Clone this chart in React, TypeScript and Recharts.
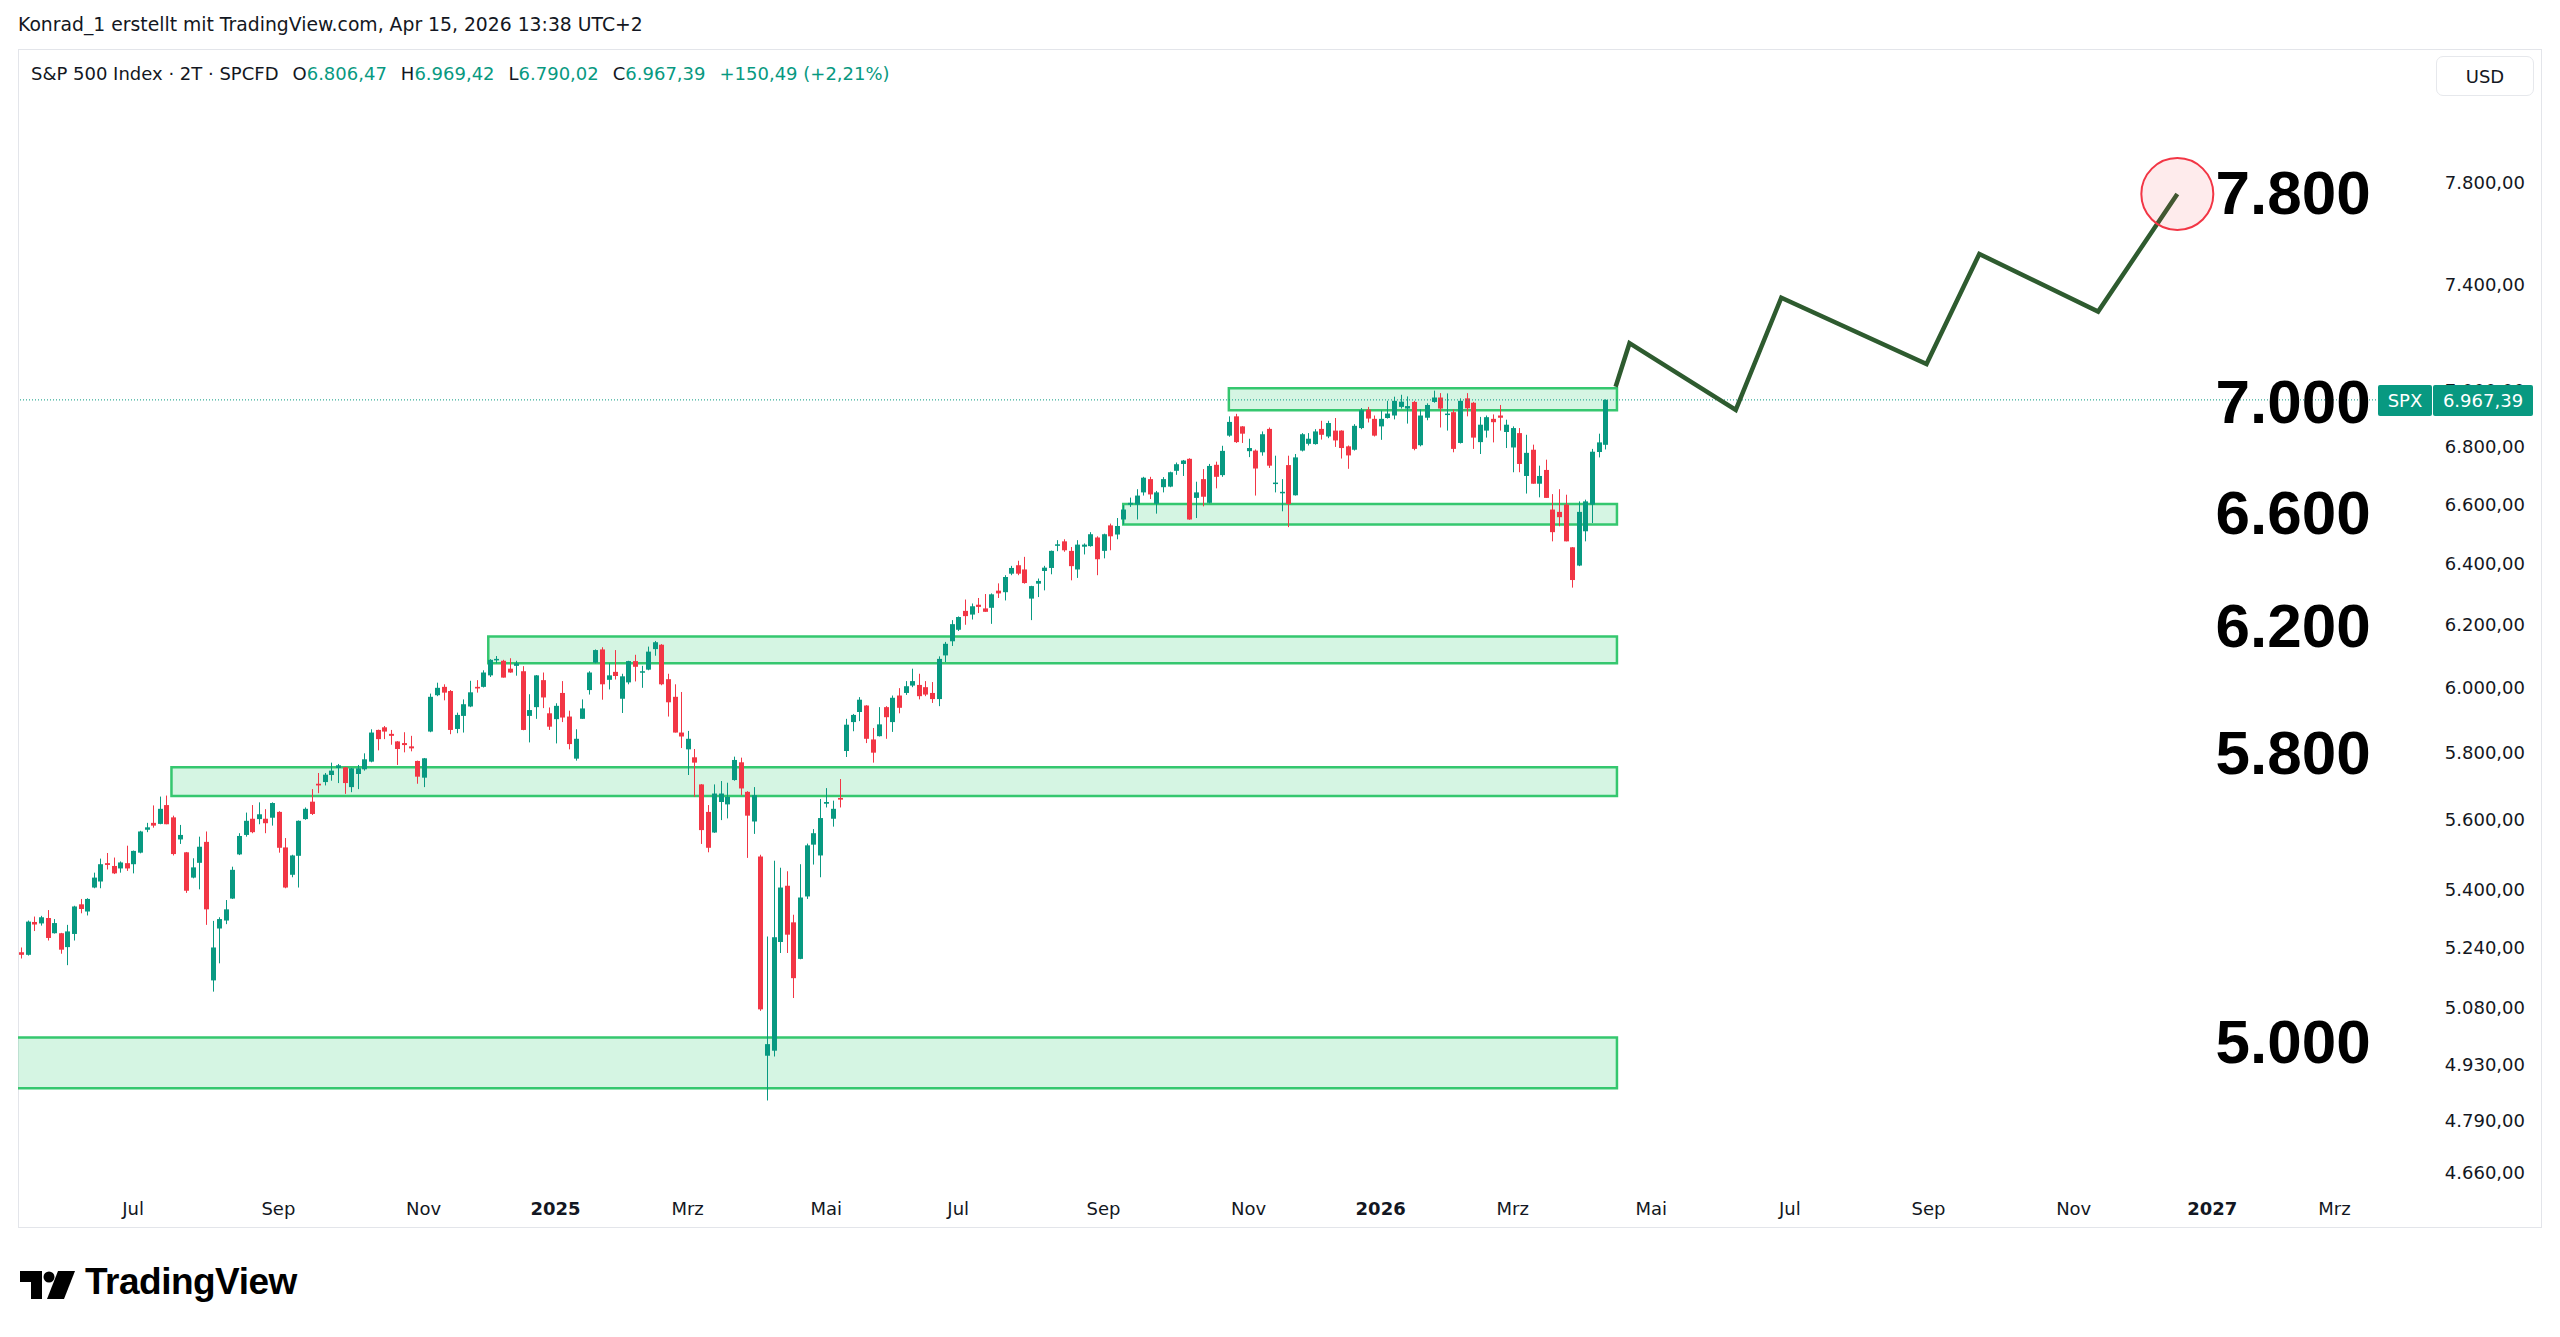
import React from 'react'
import {
  ComposedChart,
  Bar,
  Line,
  XAxis,
  YAxis,
  ReferenceArea,
  ReferenceLine,
  ReferenceDot,
} from 'recharts'

// S&P 500, 2-day candles (late May 2024 .. Apr 15 2026): [open, high, low, close]
const CANDLES: [number, number, number, number][] = [
  [5227, 5240, 5210, 5220], [5220, 5314, 5218, 5311], [5310, 5325, 5285, 5303], [5306, 5327, 5300, 5323],
  [5321, 5343, 5259, 5266], [5279, 5318, 5278, 5307], [5279, 5280, 5223, 5234], [5241, 5302, 5192, 5284],
  [5277, 5355, 5259, 5353], [5359, 5374, 5334, 5346], [5339, 5376, 5328, 5374], [5406, 5448, 5404, 5434],
  [5423, 5488, 5404, 5472], [5475, 5504, 5457, 5470], [5467, 5491, 5444, 5446], [5460, 5480, 5448, 5477],
  [5475, 5525, 5453, 5460], [5472, 5511, 5446, 5510], [5505, 5568, 5503, 5566], [5571, 5591, 5564, 5578],
  [5591, 5642, 5577, 5583], [5588, 5668, 5587, 5632], [5643, 5671, 5587, 5587], [5607, 5612, 5497, 5501],
  [5543, 5585, 5530, 5556], [5506, 5507, 5391, 5397], [5434, 5489, 5432, 5463], [5476, 5551, 5401, 5522],
  [5536, 5566, 5302, 5345], [5151, 5313, 5121, 5240], [5292, 5323, 5197, 5318], [5314, 5371, 5304, 5345],
  [5375, 5465, 5374, 5456], [5500, 5561, 5498, 5553], [5556, 5621, 5551, 5597], [5603, 5643, 5561, 5564],
  [5602, 5651, 5587, 5616], [5603, 5631, 5561, 5590], [5606, 5651, 5583, 5649], [5623, 5625, 5505, 5519],
  [5520, 5547, 5404, 5406], [5442, 5499, 5435, 5497], [5496, 5598, 5406, 5597], [5602, 5636, 5600, 5632],
  [5653, 5690, 5614, 5617], [5706, 5738, 5678, 5701], [5711, 5738, 5701, 5733], [5732, 5769, 5715, 5745],
  [5753, 5765, 5708, 5761], [5755, 5756, 5676, 5708], [5696, 5753, 5681, 5752], [5735, 5762, 5690, 5752],
  [5749, 5797, 5745, 5779], [5772, 5870, 5770, 5860], [5868, 5869, 5806, 5840], [5876, 5880, 5840, 5863],
  [5856, 5868, 5823, 5850], [5833, 5834, 5762, 5810], [5828, 5861, 5800, 5822], [5818, 5850, 5803, 5812],
  [5774, 5775, 5706, 5727], [5724, 5783, 5696, 5782], [5863, 5980, 5861, 5970], [5975, 6014, 5972, 5998],
  [6001, 6009, 5959, 5983], [5988, 5991, 5855, 5868], [5871, 5921, 5858, 5914], [5911, 5962, 5860, 5947],
  [5940, 6020, 5938, 5984], [6001, 6022, 5983, 5996], [6001, 6053, 5999, 6046], [6037, 6088, 6032, 6086],
  [6085, 6098, 6075, 6089], [6083, 6086, 6030, 6030], [6058, 6091, 6045, 6046], [6067, 6083, 6036, 6075],
  [6050, 6066, 5867, 5868], [5911, 5978, 5830, 5929], [5938, 6038, 5902, 6037], [6022, 6046, 5935, 5968],
  [5919, 5937, 5868, 5878], [5901, 5950, 5827, 5942], [5982, 6019, 5892, 5906], [5909, 5927, 5809, 5825],
  [5781, 5870, 5775, 5841], [5902, 5962, 5902, 5934], [5991, 6050, 5977, 6046], [6077, 6119, 6075, 6117],
  [6119, 6126, 5961, 6009], [6023, 6075, 5993, 6037], [6048, 6117, 6024, 6035], [5964, 6042, 5920, 6034],
  [6015, 6083, 6009, 6082], [6082, 6102, 6018, 6064], [6047, 6067, 5998, 6050], [6055, 6128, 6053, 6112],
  [6120, 6146, 6099, 6142], [6134, 6136, 6006, 6009], [6025, 6042, 5909, 5953], [5970, 6009, 5860, 5860],
  [5860, 5985, 5813, 5848], [5809, 5865, 5732, 5841], [5785, 5810, 5667, 5769], [5704, 5705, 5530, 5570],
  [5623, 5643, 5506, 5519], [5563, 5704, 5562, 5677], [5652, 5714, 5599, 5677], [5645, 5709, 5604, 5667],
  [5717, 5787, 5715, 5777], [5770, 5784, 5672, 5692], [5682, 5684, 5490, 5612], [5595, 5696, 5559, 5672],
  [5494, 5499, 5070, 5074], [4953, 5270, 4839, 4983], [4966, 5482, 4951, 5268], [5255, 5462, 5225, 5406],
  [5411, 5452, 5225, 5275], [5309, 5330, 5104, 5157], [5209, 5472, 5208, 5378], [5381, 5531, 5374, 5526],
  [5528, 5573, 5471, 5561], [5497, 5661, 5435, 5605], [5647, 5693, 5636, 5652], [5603, 5656, 5580, 5632],
  [5664, 5720, 5636, 5659], [5804, 5902, 5786, 5884], [5892, 5917, 5864, 5914], [5923, 5969, 5895, 5961],
  [5943, 5944, 5828, 5841], [5839, 5874, 5769, 5799], [5849, 5938, 5848, 5885], [5938, 5941, 5841, 5907],
  [5892, 5974, 5862, 5967], [5974, 5997, 5919, 5936], [5982, 6019, 5976, 6003], [6005, 6058, 6000, 6019],
  [6007, 6042, 5962, 5972], [6000, 6019, 5972, 5977], [5982, 6016, 5951, 5963], [5963, 6097, 5941, 6089],
  [6100, 6143, 6079, 6137], [6145, 6213, 6130, 6200], [6182, 6225, 6178, 6223], [6243, 6280, 6198, 6226],
  [6231, 6267, 6215, 6258], [6263, 6285, 6236, 6256], [6251, 6298, 6240, 6240], [6253, 6300, 6201, 6297],
  [6309, 6333, 6285, 6300], [6304, 6360, 6277, 6354], [6365, 6391, 6360, 6384], [6393, 6408, 6360, 6365],
  [6379, 6421, 6332, 6334], [6283, 6325, 6213, 6324], [6332, 6349, 6288, 6341], [6374, 6391, 6310, 6385],
  [6384, 6442, 6363, 6441], [6459, 6477, 6440, 6463], [6473, 6480, 6438, 6443], [6441, 6454, 6343, 6390],
  [6379, 6477, 6351, 6462], [6455, 6466, 6429, 6462], [6457, 6504, 6455, 6497], [6486, 6490, 6360, 6413],
  [6441, 6499, 6416, 6497], [6527, 6533, 6443, 6490], [6496, 6552, 6480, 6525], [6547, 6596, 6530, 6581],
  [6598, 6622, 6590, 6604], [6598, 6651, 6547, 6629], [6640, 6694, 6629, 6691], [6686, 6694, 6617, 6633],
  [6601, 6645, 6567, 6640], [6658, 6693, 6640, 6686], [6660, 6712, 6658, 6710], [6715, 6744, 6701, 6738],
  [6739, 6753, 6697, 6751], [6757, 6759, 6546, 6547], [6621, 6677, 6552, 6640], [6686, 6721, 6592, 6625],
  [6604, 6739, 6602, 6732], [6736, 6747, 6654, 6694], [6700, 6803, 6694, 6785], [6839, 6908, 6835, 6888],
  [6908, 6917, 6813, 6816], [6872, 6873, 6813, 6846], [6784, 6828, 6763, 6795], [6786, 6790, 6629, 6723],
  [6780, 6854, 6768, 6844], [6863, 6868, 6725, 6733], [6671, 6768, 6640, 6674], [6638, 6686, 6575, 6642],
  [6735, 6768, 6521, 6600], [6630, 6774, 6629, 6762], [6786, 6848, 6783, 6844], [6810, 6848, 6804, 6828],
  [6809, 6862, 6807, 6854], [6863, 6892, 6825, 6842], [6836, 6892, 6830, 6884], [6857, 6902, 6799, 6822],
  [6857, 6858, 6758, 6795], [6801, 6804, 6722, 6769], [6789, 6880, 6786, 6874], [6866, 6938, 6862, 6930],
  [6932, 6942, 6886, 6900], [6899, 6911, 6836, 6839], [6872, 6929, 6824, 6899], [6902, 6964, 6900, 6918],
  [6911, 6979, 6897, 6964], [6942, 6986, 6936, 6961], [6936, 6980, 6882, 6945], [6960, 6964, 6787, 6792],
  [6805, 6933, 6801, 6911], [6903, 6955, 6894, 6949], [6960, 7001, 6957, 6976], [6976, 6992, 6868, 6936],
  [6913, 6991, 6857, 6918], [6923, 6933, 6780, 6792], [6813, 6973, 6811, 6964], [6973, 6992, 6908, 6937],
  [6957, 6960, 6792, 6832], [6816, 6906, 6774, 6878], [6857, 6911, 6832, 6905], [6899, 6915, 6815, 6887],
  [6911, 6949, 6857, 6903], [6852, 6896, 6795, 6878], [6797, 6872, 6710, 6866], [6848, 6866, 6710, 6739],
  [6697, 6842, 6636, 6778], [6789, 6807, 6670, 6670], [6670, 6733, 6623, 6697], [6718, 6754, 6621, 6621],
  [6581, 6634, 6473, 6504], [6573, 6651, 6524, 6555], [6598, 6632, 6473, 6473], [6453, 6454, 6319, 6344],
  [6392, 6609, 6390, 6573], [6507, 6615, 6473, 6609], [6598, 6792, 6535, 6782], [6781, 6846, 6762, 6815],
  [6806.47, 6969.42, 6790.02, 6967.39],
]
const LAST_CHANGE = 150.49
const LAST_CHANGE_PCT = 2.21

// time axis: bar index of the first bar of each month (future bars continue the spacing)
const MONTH_IDX = [17, 39, 61, 81, 101, 122, 142, 164, 186, 206, 226, 247, 268, 289, 311, 332, 350.5]
const MONTH_LABELS = ['Jul', 'Sep', 'Nov', '2025', 'Mrz', 'Mai', 'Jul', 'Sep', 'Nov', '2026', 'Mrz', 'Mai', 'Jul', 'Sep', 'Nov', '2027', 'Mrz']

const PRICE_TICKS = [4660, 4790, 4930, 5080, 5240, 5400, 5600, 5800, 6000, 6200, 6400, 6600, 6800, 7000, 7400, 7800]

// support / resistance boxes: [from bar, to bar, low, high]
const ZONES: [number, number, number, number][] = [
  [183, 241.8, 6930, 7010],
  [167, 241.8, 6530, 6600],
  [70.8, 241.8, 6075, 6160],
  [22.8, 241.8, 5670, 5755],
  [-3, 241.8, 4870, 5000],
]

// projected path (bar index, price)
const PATH_IDX = [241.6, 243.7, 259.8, 266.7, 288.7, 296.7, 314.7, 326.7]
const PATH_VAL = [7015, 7176, 6931, 7348, 7099, 7517, 7295, 7755]

// big level texts and the price each one is drawn at
const LEVELS = [7800, 7000, 6600, 6200, 5800, 5000]
const LEVEL_AT = [7760, 6961, 6570, 6196, 5799, 4989]

const X_MIN = -0.45
const X_MAX = 356.8
const Y_MIN = 4626
const Y_MAX = 8363

const UP = '#089981'
const DOWN = '#f23645'
const TXT = '#131722'
const UI_FONT = '"DejaVu Sans", sans-serif'

const fmt = (v: number, dec = 2) => {
  const [a, b] = v.toFixed(dec).split('.')
  const int = a.replace(/\B(?=(\d{3})+(?!\d))/g, '.')
  return b ? int + ',' + b : int
}

const rows = CANDLES.map(([o, h, l, c], i) => ({ i, o, h, l, c, range: [l, h] }))
const pathRows = PATH_IDX.map((i, k) => ({ i, v: PATH_VAL[k] }))
const last = CANDLES[CANDLES.length - 1]

function Candle(props: any) {
  const { x, y, width, height, payload } = props
  if (!payload) return null
  const { o, h, l, c } = payload
  const col = c >= o ? UP : DOWN
  const span = Math.log(h) - Math.log(l) || 1
  const py = (v: number) => y + ((Math.log(h) - Math.log(v)) / span) * height
  const cx = Math.round(x + width / 2) + 0.5
  const top = py(Math.max(o, c))
  const bot = py(Math.min(o, c))
  return (
    <g>
      <line x1={cx} x2={cx} y1={y} y2={y + height} stroke={col} strokeWidth={1} />
      <rect x={cx - 2.5} y={top} width={5} height={Math.max(1.5, bot - top)} fill={col} />
    </g>
  )
}

function MonthTick(props: any) {
  const { x, payload } = props
  const k = MONTH_IDX.indexOf(payload.value)
  const label = MONTH_LABELS[k] ?? ''
  const isYear = /^\d{4}$/.test(label)
  return (
    <text x={x} y={1159} textAnchor="middle" dominantBaseline="central" fontFamily={UI_FONT}
      fontSize={18} fontWeight={isYear ? 700 : 400} fill={TXT}>
      {label}
    </text>
  )
}

// price scale labels; the last-price tag is drawn by the tick of the last close so it covers the 7.000 label
function PriceTick(props: any) {
  const { y, payload } = props
  if (payload.value === last[3]) {
    return (
      <g>
        <rect x={2360} y={y - 15} width={54} height={31} rx={2} fill={UP} />
        <rect x={2415} y={y - 15} width={100} height={31} rx={2} fill={UP} />
        <text x={2387} y={y + 1} textAnchor="middle" dominantBaseline="central" fontFamily={UI_FONT} fontSize={18} fill="#fff">SPX</text>
        <text x={2465} y={y + 1} textAnchor="middle" dominantBaseline="central" fontFamily={UI_FONT} fontSize={18} fill="#fff">{fmt(last[3])}</text>
      </g>
    )
  }
  return (
    <text x={2507} y={y} textAnchor="end" dominantBaseline="central" fontFamily={UI_FONT} fontSize={18} fill={TXT}>
      {fmt(payload.value)}
    </text>
  )
}

function LevelLabel(props: any) {
  const { cx, cy, value } = props
  return (
    <text x={cx} y={cy} textAnchor="end" dominantBaseline="central" fontFamily='"Liberation Sans", Arial, sans-serif'
      fontSize={62} fontWeight={700} fill="#000">
      {fmt(value, 0)}
    </text>
  )
}

function TvLogo() {
  return (
    <svg width={56} height={28} viewBox="0 0 56 28" style={{ position: 'absolute', left: 20, top: 1271 }}>
      <path d="M0 0 H22 V28 H11 V11 H0 Z" fill="#000" />
      <circle cx={29} cy={6} r={5.5} fill="#000" />
      <path d="M38 0 H55 L44 28 H27 Z" fill="#000" />
    </svg>
  )
}

export default function App() {
  const valStyle = { color: UP }
  const gap = { display: 'inline-block', width: 14 }
  return (
    <div style={{ position: 'absolute', left: 0, top: 0, width: 2560, height: 1337, background: '#fff', overflow: 'hidden', fontFamily: UI_FONT, color: TXT }}>
      <div style={{ position: 'absolute', left: 18, top: 14, fontSize: 18.8 }}>
        Konrad_1 erstellt mit TradingView.com, Apr 15, 2026 13:38 UTC+2
      </div>
      <div style={{ position: 'absolute', left: 18, top: 49, width: 2522, height: 1177, border: '1px solid #e3e5ea' }} />
      <div style={{ position: 'absolute', left: 31, top: 63, fontSize: 18, whiteSpace: 'pre' }}>
        <span>S&amp;P 500 Index · 2T · SPCFD</span><span style={gap} />
        <span>O</span><span style={valStyle}>{fmt(last[0])}</span><span style={gap} />
        <span>H</span><span style={valStyle}>{fmt(last[1])}</span><span style={gap} />
        <span>L</span><span style={valStyle}>{fmt(last[2])}</span><span style={gap} />
        <span>C</span><span style={valStyle}>{fmt(last[3])}</span><span style={gap} />
        <span style={valStyle}>+{fmt(LAST_CHANGE)} (+{fmt(LAST_CHANGE_PCT)}%)</span>
      </div>
      <div style={{ position: 'absolute', left: 2436, top: 56, width: 96, height: 38, border: '1px solid #e6e8ec', borderRadius: 7, fontSize: 18, display: 'flex', alignItems: 'center', justifyContent: 'center' }}>
        USD
      </div>
      <div style={{ position: 'absolute', left: 18, top: 49 }}>
        <ComposedChart width={2524} height={1179} data={rows} margin={{ top: 0, right: 0, bottom: 0, left: 0 }}>
          <XAxis dataKey="i" type="number" domain={[X_MIN, X_MAX]} allowDataOverflow ticks={MONTH_IDX} interval={0}
            tick={<MonthTick />} axisLine={false} tickLine={false} height={41} />
          <YAxis orientation="right" type="number" scale="log" domain={[Y_MIN, Y_MAX]} allowDataOverflow
            ticks={[...PRICE_TICKS, last[3]]} interval={0} tick={<PriceTick />} axisLine={false} tickLine={false} width={166} />
          <ReferenceLine y={last[3]} stroke={UP} strokeDasharray="1 2" strokeWidth={1} />
          <Bar dataKey="range" barSize={5} shape={<Candle />} isAnimationActive={false} />
          {ZONES.map(([x1, x2, y1, y2], k) => (
            <ReferenceArea key={k} x1={x1} x2={x2} y1={y1} y2={y2} ifOverflow="hidden"
              fill="rgba(46, 204, 113, 0.2)" fillOpacity={1} stroke="#35c76f" strokeWidth={2.5} />
          ))}
          <Line data={pathRows} dataKey="v" stroke="#2e5b2f" strokeWidth={4.5} dot={false} isAnimationActive={false} />
          <ReferenceDot x={PATH_IDX[PATH_IDX.length - 1]} y={PATH_VAL[PATH_VAL.length - 1]} r={36} ifOverflow="visible"
            fill="rgba(242, 54, 69, 0.1)" stroke={DOWN} strokeWidth={2} />
          {LEVELS.map((v, k) => (
            <ReferenceDot key={v} x={356} y={LEVEL_AT[k]} r={0} ifOverflow="visible" shape={(p: any) => <LevelLabel {...p} value={v} />} />
          ))}
        </ComposedChart>
      </div>
      <TvLogo />
      <div style={{ position: 'absolute', left: 85, top: 1261, fontSize: 37, fontWeight: 700, fontFamily: '"Liberation Sans", Arial, sans-serif', letterSpacing: -0.5, color: '#000' }}>
        TradingView
      </div>
    </div>
  )
}
